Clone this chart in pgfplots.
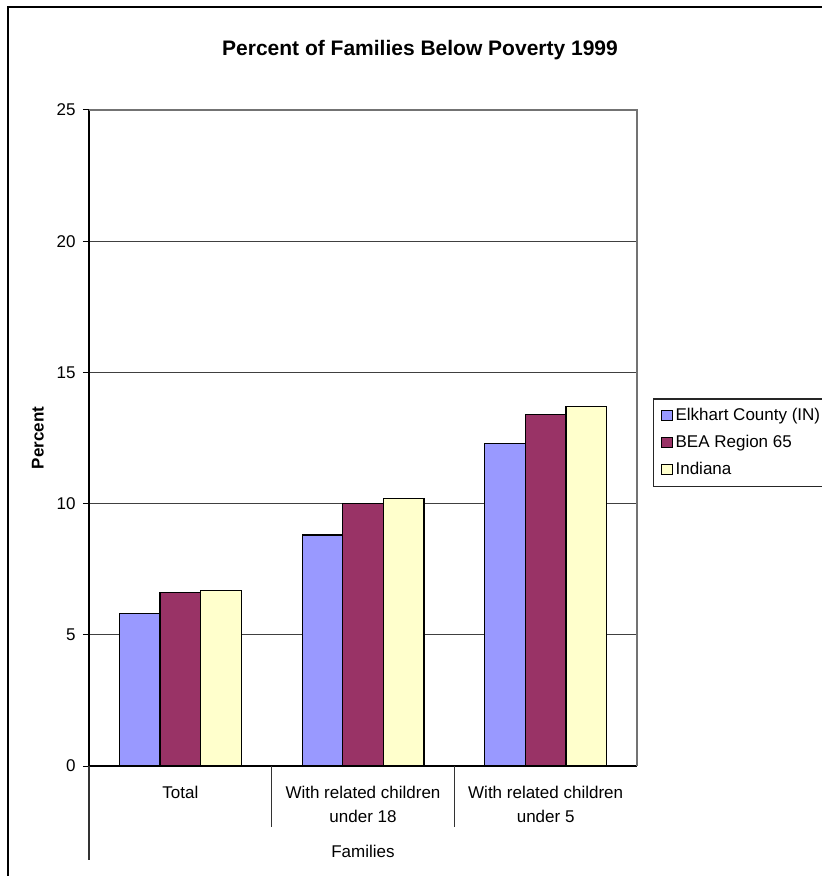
\documentclass[border=0pt]{standalone}
\usepackage{fontspec}
\setmainfont{Liberation Sans}
\usepackage{pgfplots}
\usepackage{pgfplotstable}
\pgfplotsset{compat=1.18}
\definecolor{elk}{HTML}{9999FF}
\definecolor{bea}{HTML}{993366}
\definecolor{ind}{HTML}{FFFFCC}

\pgfplotstableread{
x elk bea ind
0 5.8 6.6 6.7
1 8.8 10.0 10.2
2 12.3 13.4 13.7
}\data

\begin{document}
\fontsize{8.5}{10.2}\selectfont
\begin{tikzpicture}
\begin{axis}[
  at={(0,0)}, anchor=south west,
  scale only axis, width=274pt, height=328pt,
  ybar=0pt, bar width=20.3pt,
  xmin=-0.5, xmax=2.5, ymin=0, ymax=25,
  enlargelimits=false,
  clip=false,
  axis x line*=bottom, axis y line*=left,
  axis line style={black, line width=0.6pt},
  ytick={0,5,10,15,20,25},
  xtick={0,1,2},
  xticklabels={Total, With related children\\under 18, With related children\\under 5},
  xticklabel style={align=center, anchor=north, inner sep=0pt, yshift=-6.8pt,
     font=\fontsize{8.5}{12}\selectfont},
  x tick style={draw=none},
  tick align=outside, major tick length=3pt,
  y tick style={black, line width=0.5pt},
  yticklabel style={inner sep=0pt, xshift=-3.5pt},
  /pgf/number format/assume math mode=true,
  ymajorgrids, grid style={black!75, line width=0.5pt},
  xlabel={Families},
  xlabel style={at={(axis description cs:0.5,0)}, anchor=center, yshift=-42.5pt},
  ylabel={Percent},
  ylabel style={at={(axis description cs:-0.0931,0.5)}, anchor=center, font=\bfseries},
  legend image code/.code={\draw[#1, draw=black, line width=0.5pt] (0pt,-2.6pt) rectangle (5.5pt,2.6pt);},
  legend style={at={(axis description cs:1.0292,0.5605)}, anchor=north west,
     draw=black!85, line width=0.6pt, inner xsep=3.5pt, inner ysep=4.4pt,
     row sep=5.7pt, column sep=1.5pt,
     nodes={inner sep=0pt, text height=6.2pt, text depth=1.6pt, anchor=west},
     font=\fontsize{8.5}{10.2}\selectfont, legend cell align=left},
]
\addplot[fill=elk, draw=black, line width=0.6pt] table[x=x, y=elk]{\data};
\addplot[fill=bea, draw=black, line width=0.6pt] table[x=x, y=bea]{\data};
\addplot[fill=ind, draw=black, line width=0.6pt] table[x=x, y=ind]{\data};
\legend{Elkhart County (IN), BEA Region 65, Indiana}
\draw[black!55, line width=0.8pt] (rel axis cs:0,1) -- (rel axis cs:1,1) -- (rel axis cs:1,0);
\draw[black!80, line width=0.6pt] (axis cs:-0.5,0) -- ++(0pt,-47pt);
\draw[black!80, line width=0.6pt] (axis cs:0.5,0) -- ++(0pt,-30.5pt);
\draw[black!80, line width=0.6pt] (axis cs:1.5,0) -- ++(0pt,-30.5pt);
\end{axis}
\node[font=\fontsize{10.5}{12}\selectfont\bfseries] at (165.5pt,358pt) {Percent of Families Below Poverty 1999};
\draw[black, line width=0.6pt] (-40.5pt,-60pt) -- (-40.5pt,379.5pt) -- (370pt,379.5pt);
\pgfresetboundingbox
\path[use as bounding box] (-44.5pt,-55pt) rectangle (366pt,383pt);
\end{tikzpicture}
\end{document}
